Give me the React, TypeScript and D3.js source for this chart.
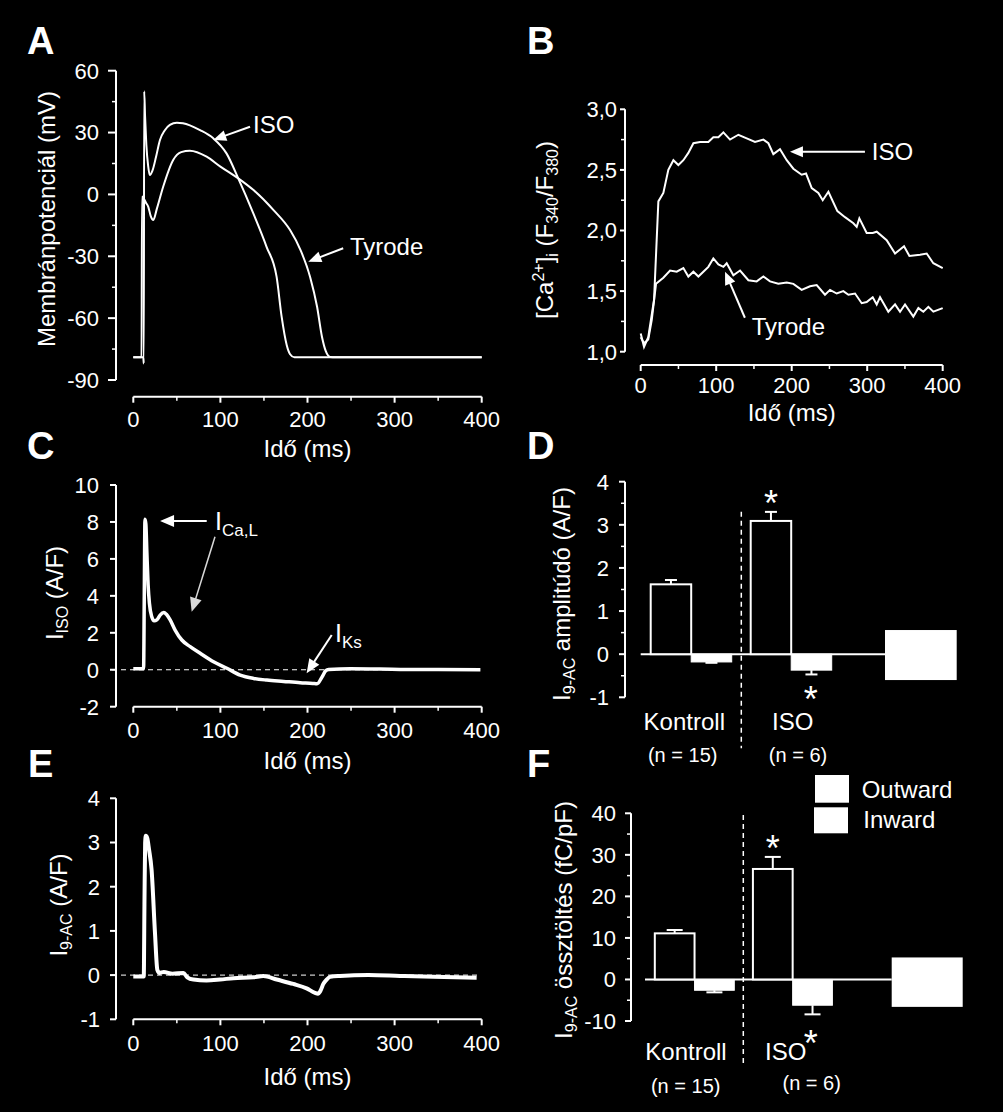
import React from 'react';
import * as d3 from 'd3';

const FONT = 'Arial, "Liberation Sans", Helvetica, sans-serif';
type P = [number, number];

// ---------- Panel A: action potentials (ms, mV) ----------
const apIso: P[] = [[0,-79],[11.5,-79],[12,-82],[12.5,50],[13.5,38],[15,24],[17,14],[19,9.4],[22,11.5],[26,18],[30.6,26.4],[36,31],[42,33.7],[50,34.8],[57,34.5],[65,33.5],[76.6,31.2],[91.8,27.2],[107,19.9],[120.5,7.8],[137.8,-9.2],[153,-25.4],[164.5,-39.9],[170.3,-59.3],[176.1,-73],[180,-77.5],[185,-79],[400,-79]];
const apTyrode: P[] = [[0,-79],[9.5,-79],[10,-1],[12,-2],[14.5,-4],[17.2,-6],[20,-10.5],[23,-12.4],[27,-7],[34.3,3.7],[45.8,16.7],[55,20.5],[65,21.2],[84.2,18.3],[100,13.5],[120.5,7.8],[138,2.1],[161,-7.6],[180,-17.3],[192,-27],[203,-40],[211,-54.5],[216.6,-69],[221,-76],[226,-78.8],[232,-79],[400,-79]];

// ---------- Panel B: Ca transients (ms, ratio) ----------
const caIso: P[] = [[0,1.15],[4.4,1.04],[10,1.12],[17.7,1.43],[23.4,2.24],[30,2.31],[36.6,2.5],[43.3,2.58],[49.9,2.54],[56.5,2.58],[63.1,2.64],[69.8,2.72],[78.6,2.73],[89.6,2.73],[96.2,2.77],[102.9,2.77],[109.5,2.81],[118.3,2.75],[129.4,2.79],[140.4,2.76],[151.4,2.73],[162.5,2.75],[169.1,2.72],[175.7,2.63],[184.5,2.67],[193.4,2.58],[202.2,2.51],[213.2,2.46],[219,2.47],[226.5,2.35],[235.3,2.31],[241.1,2.25],[248.6,2.32],[260.5,2.16],[270.6,2.11],[281.7,2.06],[286.1,2.03],[289.6,2.1],[299.3,1.98],[307.3,1.98],[312.6,1.99],[325.8,1.92],[336.9,1.81],[348.8,1.87],[355.9,1.79],[370,1.8],[378.8,1.81],[387.6,1.73],[400,1.69]];
const caTyrode: P[] = [[0,1.12],[4.4,1.07],[10,1.1],[14.6,1.26],[20.3,1.56],[30,1.61],[38.9,1.67],[47.7,1.66],[56.5,1.69],[63.1,1.62],[69.8,1.66],[76.4,1.62],[83,1.66],[89.6,1.7],[96.2,1.77],[102.9,1.72],[109.5,1.7],[113.9,1.73],[122.7,1.63],[131.6,1.67],[142.6,1.59],[153.6,1.58],[162.5,1.62],[171.3,1.58],[182.3,1.56],[193.4,1.57],[202.2,1.56],[213.2,1.51],[224.3,1.54],[233.1,1.55],[244.1,1.47],[250.8,1.51],[259.6,1.48],[268.4,1.5],[275.1,1.47],[283.9,1.48],[292.7,1.4],[299.3,1.41],[307.3,1.45],[312.6,1.39],[317,1.45],[328,1.33],[336.9,1.39],[343.5,1.33],[350.1,1.39],[361.1,1.29],[367.8,1.36],[374.4,1.33],[381,1.37],[387.6,1.33],[400,1.36]];

// ---------- Panel C: I_ISO (ms, A/F) ----------
const iIso: P[] = [[0,0.05],[11.8,0.05],[12.6,4],[13.4,8.15],[14.4,7.9],[15.6,6.3],[17,4.6],[18.5,3.6],[21,2.9],[24,2.65],[27,2.7],[30.8,2.96],[35,3.1],[38,3.0],[42.3,2.7],[48,2.15],[55.7,1.61],[65.3,1.25],[76.8,0.89],[92.1,0.43],[107.4,0.08],[122.7,-0.29],[138.1,-0.47],[153.4,-0.56],[172.5,-0.63],[191.7,-0.7],[206,-0.74],[211,-0.76],[216.6,-0.4],[221,-0.05],[224.3,0.02],[249.2,0.05],[306.6,0.02],[350,0.01],[398.5,0.0]];

// ---------- Panel E: I_9-AC (ms, A/F) ----------
const i9ac: P[] = [[0,-0.03],[12,-0.03],[12.8,1.6],[13.6,3.0],[14.4,3.15],[16,3.1],[18,2.85],[21,2.38],[24.9,0.95],[27.6,0.12],[30,0.05],[35,0.07],[45,0.03],[57.5,0.05],[62,-0.05],[69,-0.1],[84,-0.12],[99.6,-0.1],[115,-0.07],[137.8,-0.05],[149.3,-0.02],[164.6,-0.1],[183.7,-0.2],[199,-0.3],[208.6,-0.4],[212,-0.42],[215,-0.35],[218.2,-0.2],[222,-0.1],[226,-0.04],[237.3,-0.02],[270,0.0],[306.2,-0.02],[344.5,-0.04],[394.2,-0.06]];

// ---------- Panels D & F: bar data ----------
const groups = ['Kontroll', 'ISO'];
const groupN = ['(n = 15)', '(n = 6)'];
const kinds = ['out', 'in'];
const ampOut = [1.62, 3.09];
const ampOutErr = [0.1, 0.21];
const ampIn = [-0.18, -0.37];
const ampInErr = [0.02, 0.1];
const chgOut = [11.1, 26.6];
const chgOutErr = [0.8, 2.9];
const chgIn = [-2.6, -6.2];
const chgInErr = [0.5, 2.2];
const ampBlank = [0.56, -0.6];
const chgBlank = [5.3, -6.6];
const legendLabels = ['Outward', 'Inward'];

const xTicks = [0, 100, 200, 300, 400];
const xMinor = [50, 150, 250, 350];

const TITLE_FS = 24;

function YAxis({ y, x, ticks, minor = [], fmt = (v: number) => String(v), tickLen = 7, minorLen = 4, gap = 16, fs = 22 }: any) {
  const [y0, y1] = y.range();
  return (
    <g>
      <line x1={x} x2={x} y1={y0} y2={y1} stroke="#fff" strokeWidth={2} />
      {minor.map((v: number) => (
        <line key={'m' + v} x1={x - minorLen} x2={x} y1={y(v)} y2={y(v)} stroke="#fff" strokeWidth={1.5} />
      ))}
      {ticks.map((v: number) => (
        <g key={v}>
          <line x1={x - tickLen} x2={x} y1={y(v)} y2={y(v)} stroke="#fff" strokeWidth={2} />
          <text x={x - gap} y={y(v)} dy="0.36em" textAnchor="end" fill="#fff" fontSize={fs}>{fmt(v)}</text>
        </g>
      ))}
    </g>
  );
}

function XAxis({ x, y, ticks, minor = [], tickLen = 6, minorLen = 4, lab = 30, title, titleY, fs = 22 }: any) {
  const [x0, x1] = x.range();
  return (
    <g>
      <line x1={x0} x2={x1} y1={y} y2={y} stroke="#fff" strokeWidth={2} />
      {minor.map((v: number) => (
        <line key={'m' + v} x1={x(v)} x2={x(v)} y1={y} y2={y + minorLen} stroke="#fff" strokeWidth={1.5} />
      ))}
      {ticks.map((v: number) => (
        <g key={v}>
          <line x1={x(v)} x2={x(v)} y1={y} y2={y + tickLen} stroke="#fff" strokeWidth={2} />
          <text x={x(v)} y={y + lab} textAnchor="middle" fill="#fff" fontSize={fs}>{v}</text>
        </g>
      ))}
      <text x={(x0 + x1) / 2} y={titleY} textAnchor="middle" fill="#fff" fontSize={TITLE_FS}>{title}</text>
    </g>
  );
}

function Arrow({ x1, y1, x2, y2, color = '#fff', len = 13, hw = 5.5, sw = 2 }: any) {
  const dx = x2 - x1, dy = y2 - y1, L = Math.hypot(dx, dy);
  const ux = dx / L, uy = dy / L;
  const bx = x2 - ux * len, by = y2 - uy * len;
  const px = -uy * hw, py = ux * hw;
  return (
    <g>
      <line x1={x1} y1={y1} x2={bx + ux} y2={by + uy} stroke={color} strokeWidth={sw} />
      <polygon points={`${x2},${y2} ${bx + px},${by + py} ${bx - px},${by - py}`} fill={color} />
    </g>
  );
}

function YTitle({ cx, cy, children }: any) {
  return (
    <text transform={`translate(${cx},${cy}) rotate(-90)`} textAnchor="middle" fill="#fff" fontSize={TITLE_FS}>{children}</text>
  );
}

function Letter({ x, y, t }: any) {
  return <text x={x} y={y} fill="#fff" fontSize={38} fontWeight="bold">{t}</text>;
}

const STAR_FS = 36;

function BarPanel({ y, axisX, x0, x1, out, outErr, inn, innErr, blank, blankX, sepX, sepY, capW, ticks, minor, gap, labY, labX, nY, nX, starOutC, starInC, starInX }: any) {
  const xg = d3.scaleBand().domain(groups).range([x0, x1]).paddingInner(0.19).paddingOuter(0.1);
  const xs = d3.scaleBand().domain(kinds).range([0, xg.bandwidth()]);
  const zero = y(0);
  const sOff = STAR_FS * 0.57;
  return (
    <g>
      <YAxis y={y} x={axisX} ticks={ticks} minor={minor} tickLen={6} minorLen={4} gap={gap} />
      <line x1={x0} x2={blankX[0]} y1={zero} y2={zero} stroke="#fff" strokeWidth={2} />
      {groups.map((g, i) => {
        const xo = (xg(g) as number) + (xs('out') as number);
        const xi = (xg(g) as number) + (xs('in') as number);
        const w = xs.bandwidth();
        const co = xo + w / 2, ci = xi + w / 2;
        return (
          <g key={g}>
            <line x1={co} x2={co} y1={y(out[i])} y2={y(out[i] + outErr[i])} stroke="#fff" strokeWidth={2} />
            <line x1={co - capW / 2} x2={co + capW / 2} y1={y(out[i] + outErr[i])} y2={y(out[i] + outErr[i])} stroke="#fff" strokeWidth={2} />
            <rect x={xo} y={y(out[i])} width={w} height={zero - y(out[i])} fill="#000" stroke="#fff" strokeWidth={2} />
            <line x1={ci} x2={ci} y1={y(inn[i])} y2={y(inn[i] - innErr[i])} stroke="#fff" strokeWidth={2} />
            <line x1={ci - capW / 2} x2={ci + capW / 2} y1={y(inn[i] - innErr[i])} y2={y(inn[i] - innErr[i])} stroke="#fff" strokeWidth={2} />
            <rect x={xi} y={zero} width={w} height={y(inn[i]) - zero} fill="#fff" stroke="#fff" strokeWidth={1} />
          </g>
        );
      })}
      {/* significance markers on ISO */}
      <text x={(xg('ISO') as number) + (xs('out') as number) + xs.bandwidth() / 2} y={y(out[1] + outErr[1]) - starOutC + sOff} textAnchor="middle" fill="#fff" fontSize={STAR_FS}>*</text>
      <text x={starInX} y={y(inn[1] - innErr[1]) + starInC + sOff} textAnchor="middle" fill="#fff" fontSize={STAR_FS}>*</text>
      <rect x={blankX[0]} y={y(blank[0])} width={blankX[1] - blankX[0]} height={y(blank[1]) - y(blank[0])} fill="#fff" />
      <line x1={sepX} x2={sepX} y1={sepY[0]} y2={sepY[1]} stroke="#fff" strokeWidth={1.5} strokeDasharray="5,4" />
      {groups.map((g, i) => (
        <g key={'l' + g}>
          <text x={labX[i]} y={labY} textAnchor="middle" fill="#fff" fontSize={24}>{g}</text>
          <text x={nX[i]} y={nY[i]} textAnchor="middle" fill="#fff" fontSize={20}>{groupN[i]}</text>
        </g>
      ))}
    </g>
  );
}

export default function App() {
  // Panel A
  const xA = d3.scaleLinear().domain([0, 400]).range([133.3, 481.7]);
  const yA = d3.scaleLinear().domain([-90, 60]).range([380, 70.7]);
  const lineA = d3.line<P>().x(d => xA(d[0])).y(d => yA(d[1])).curve(d3.curveMonotoneX);
  // Panel B
  const xB = d3.scaleLinear().domain([0, 400]).range([640.7, 942.7]);
  const yB = d3.scaleLinear().domain([1, 3]).range([351.7, 109.3]);
  const lineB = d3.line<P>().x(d => xB(d[0])).y(d => yB(d[1]));
  const fmtB = (v: number) => d3.format('.1f')(v).replace('.', ',');
  // Panel C
  const xC = d3.scaleLinear().domain([0, 400]).range([133.3, 481.7]);
  const yC = d3.scaleLinear().domain([-2, 10]).range([706.7, 485]);
  const lineC = d3.line<P>().x(d => xC(d[0])).y(d => yC(d[1])).curve(d3.curveMonotoneX);
  // Panel E
  const xE = d3.scaleLinear().domain([0, 400]).range([133.3, 481.7]);
  const yE = d3.scaleLinear().domain([-1, 4]).range([1019.3, 798.3]);
  const lineE = d3.line<P>().x(d => xE(d[0])).y(d => yE(d[1])).curve(d3.curveMonotoneX);
  // Panel D, F
  const yD = d3.scaleLinear().domain([-1, 4]).range([697.3, 481.7]);
  const yF = d3.scaleLinear().domain([-10, 40]).range([1021, 813.3]);

  const sub = (t: string, dy = 6) => (
    <tspan fontSize={16} dy={dy}>{t}</tspan>
  );

  return (
    <svg width={1003} height={1112} style={{ position: 'absolute', left: 0, top: 0, background: '#000' }} fontFamily={FONT}>
      <rect width={1003} height={1112} fill="#000" />

      {/* ===== A ===== */}
      <Letter x={27} y={54} t="A" />
      <YAxis y={yA} x={116} ticks={d3.range(-90, 61, 30)} minor={d3.range(-75, 60, 30)} tickLen={8} gap={17} />
      <XAxis x={xA} y={396.7} ticks={xTicks} minor={xMinor} title="Idő (ms)" titleY={456.7} />
      <YTitle cx={55} cy={219}>Membránpotenciál (mV)</YTitle>
      <path d={lineA(apTyrode) as string} fill="none" stroke="#fff" strokeWidth={2} />
      <path d={lineA(apIso) as string} fill="none" stroke="#fff" strokeWidth={2} />
      <Arrow x1={xA(134)} y1={yA(32.8)} x2={xA(91.8)} y2={yA(26.4)} />
      <text x={xA(137.5)} y={yA(30.4) + 1} fill="#fff" fontSize={TITLE_FS}>ISO</text>
      <Arrow x1={xA(241)} y1={yA(-26.1)} x2={xA(200.9)} y2={yA(-32.6)} />
      <text x={xA(248.7)} y={yA(-29.4)} fill="#fff" fontSize={TITLE_FS}>Tyrode</text>

      {/* ===== B ===== */}
      <Letter x={527} y={54} t="B" />
      <YAxis y={yB} x={625} ticks={d3.range(1, 3.01, 0.5)} minor={[1.25, 1.75, 2.25, 2.75]} fmt={fmtB} tickLen={5} minorLen={4} gap={8} />
      <XAxis x={xB} y={365} ticks={xTicks} minor={xMinor} lab={28} title="Idő (ms)" titleY={420.7} />
      <text transform="translate(553,230) rotate(-90)" textAnchor="middle" fill="#fff" fontSize={TITLE_FS}>
        [Ca<tspan fontSize={16} dy={-9}>2+</tspan><tspan dy={9}>]</tspan><tspan fontSize={16} dy={5}>i</tspan><tspan dy={-5}> (F</tspan><tspan fontSize={16} dy={5}>340</tspan><tspan dy={-5}>/F</tspan><tspan fontSize={16} dy={5}>380</tspan><tspan dy={-5}>)</tspan>
      </text>
      <path d={lineB(caTyrode) as string} fill="none" stroke="#fff" strokeWidth={2} />
      <path d={lineB(caIso) as string} fill="none" stroke="#fff" strokeWidth={2} />
      <Arrow x1={xB(297)} y1={yB(2.65)} x2={xB(197.7)} y2={yB(2.65)} />
      <text x={xB(306)} y={yB(2.58)} fill="#fff" fontSize={TITLE_FS}>ISO</text>
      <Arrow x1={xB(138)} y1={yB(1.28)} x2={xB(111.7)} y2={yB(1.66)} />
      <text x={xB(147)} y={yB(1.14)} fill="#fff" fontSize={TITLE_FS}>Tyrode</text>

      {/* ===== C ===== */}
      <Letter x={27} y={459} t="C" />
      <YAxis y={yC} x={116} ticks={d3.range(-2, 10.1, 2)} tickLen={6} gap={17} />
      <XAxis x={xC} y={706.7} ticks={xTicks} minor={xMinor} lab={31.5} title="Idő (ms)" titleY={769} />
      <text transform="translate(63,593) rotate(-90)" textAnchor="middle" fill="#fff" fontSize={TITLE_FS}>
        I{sub('ISO', 5)}<tspan dy={-5}> (A/F)</tspan>
      </text>
      <line x1={112} x2={480} y1={yC(0)} y2={yC(0)} stroke="#fff" strokeWidth={1} strokeDasharray="5,4" />
      <path d={lineC(iIso) as string} fill="none" stroke="#fff" strokeWidth={3.5} strokeLinejoin="round" />
      <Arrow x1={xC(84.3)} y1={yC(8.05)} x2={xC(30.7)} y2={yC(8.05)} len={14} hw={6} />
      <Arrow x1={xC(93.8)} y1={yC(7.2)} x2={xC(67)} y2={yC(3.14)} color="#d8d8d8" len={14} hw={6} sw={1.5} />
      <text x={xC(93.8)} y={yC(7.56)} fill="#fff" fontSize={25}>I<tspan fontSize={17} dy={6}>Ca,L</tspan></text>
      <Arrow x1={xC(227.8)} y1={yC(1.88)} x2={xC(199)} y2={yC(-0.19)} len={14} hw={6} />
      <text x={xC(231.5)} y={yC(1.52)} fill="#fff" fontSize={25}>I<tspan fontSize={17} dy={6}>Ks</tspan></text>

      {/* ===== D ===== */}
      <Letter x={527} y={459} t="D" />
      <BarPanel y={yD} axisX={625} x0={640.7} x1={841.7} out={ampOut} outErr={ampOutErr} inn={ampIn} innErr={ampInErr}
        blank={ampBlank} blankX={[885, 956.7]} sepX={741.3} sepY={[511.7, 748.3]} capW={12}
        ticks={d3.range(-1, 4.1, 1)} minor={[-0.5, 0.5, 1.5, 2.5, 3.5]} gap={16} labY={730} labX={[684.3, 792.7]} nY={[761.7, 761.7]} nX={[682.7, 798]}
        starOutC={16.7} starInC={17.4} starInX={810.7} />
      <text transform="translate(570,594) rotate(-90)" textAnchor="middle" fill="#fff" fontSize={TITLE_FS}>
        I{sub('9-AC', 5)}<tspan dy={-5}> amplitúdó (A/F)</tspan>
      </text>

      {/* ===== E ===== */}
      <Letter x={28} y={777} t="E" />
      <YAxis y={yE} x={116} ticks={d3.range(-1, 4.1, 1)} tickLen={6} gap={16} />
      <XAxis x={xE} y={1019.3} ticks={xTicks} minor={xMinor} lab={32} title="Idő (ms)" titleY={1085} />
      <text transform="translate(67,905) rotate(-90)" textAnchor="middle" fill="#fff" fontSize={TITLE_FS}>
        I{sub('9-AC', 5)}<tspan dy={-5}> (A/F)</tspan>
      </text>
      <line x1={112} x2={480} y1={yE(0)} y2={yE(0)} stroke="#fff" strokeWidth={1} strokeDasharray="5,4" />
      <path d={lineE(i9ac) as string} fill="none" stroke="#fff" strokeWidth={4} strokeLinejoin="round" />

      {/* ===== F ===== */}
      <Letter x={527} y={777} t="F" />
      <BarPanel y={yF} axisX={631} x0={645} x1={842.2} out={chgOut} outErr={chgOutErr} inn={chgIn} innErr={chgInErr}
        blank={chgBlank} blankX={[891.7, 962.7]} sepX={743.3} sepY={[815, 1063.3]} capW={16}
        ticks={d3.range(-10, 40.1, 10)} minor={[-5, 5, 15, 25, 35]} gap={15} labY={1060} labX={[686, 785.7]} nY={[1093.3, 1090]} nX={[685.7, 811.7]}
        starOutC={16.7} starInC={21} starInX={810.7} />
      <text transform="translate(572,920) rotate(-90)" textAnchor="middle" fill="#fff" fontSize={TITLE_FS}>
        I{sub('9-AC', 5)}<tspan dy={-5}> össztöltés (fC/pF)</tspan>
      </text>
      {legendLabels.map((l, i) => (
        <g key={l}>
          <rect x={i === 0 ? 815 : 814} y={i === 0 ? 775 : 807.3} width={34} height={i === 0 ? 27.7 : 26} fill="#fff" />
          <text x={i === 0 ? 861.7 : 863.3} y={i === 0 ? 798.3 : 828.3} fill="#fff" fontSize={24}>{l}</text>
        </g>
      ))}
    </svg>
  );
}
